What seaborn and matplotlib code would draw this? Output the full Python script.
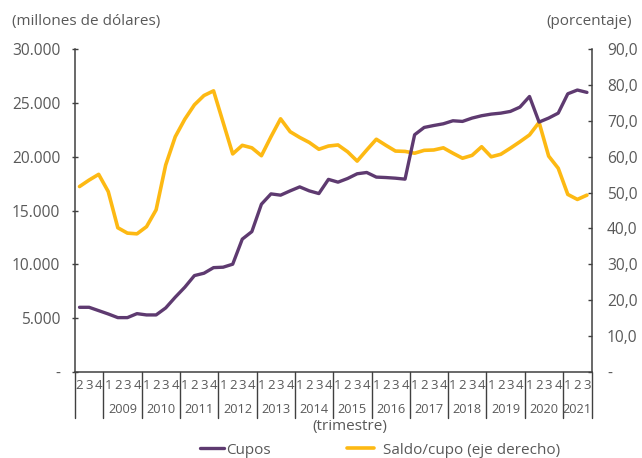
import matplotlib
matplotlib.use("Agg")
import matplotlib.pyplot as plt
import matplotlib.transforms as mtransforms
from matplotlib.lines import Line2D
import seaborn as sns
import pandas as pd

# ---------------- data ----------------
quarter_labels = ["2", "3", "4",
                  "1", "2", "3", "4", "1", "2", "3", "4", "1", "2", "3", "4",
                  "1", "2", "3", "4", "1", "2", "3", "4", "1", "2", "3", "4",
                  "1", "2", "3", "4", "1", "2", "3", "4", "1", "2", "3", "4",
                  "1", "2", "3", "4", "1", "2", "3", "4", "1", "2", "3", "4",
                  "1", "2", "3"]
year_labels = ["", "2009", "2010", "2011", "2012", "2013", "2014", "2015",
               "2016", "2017", "2018", "2019", "2020", "2021"]
year_sizes = [3, 4, 4, 4, 4, 4, 4, 4, 4, 4, 4, 4, 4, 3]

cupos = [6000, 6000, 5690, 5380, 5040, 5040, 5410, 5290, 5290, 5940,
         6940, 7870, 8950, 9170, 9690, 9730, 10010, 12340, 13040, 15590,
         16550, 16430, 16830, 17200, 16830, 16580, 17900, 17640, 17980, 18420,
         18540, 18110, 18070, 18010, 17920, 22050, 22730, 22910, 23070, 23350,
         23290, 23600, 23820, 23970, 24060, 24220, 24620, 25610, 23230, 23600,
         24060, 25860, 26210, 25990]
saldo_cupo = [51.7, 53.5, 55.1, 50.3, 40.2, 38.7, 38.5, 40.5, 45.2, 57.7,
              65.6, 70.5, 74.5, 77.1, 78.4, 69.6, 60.8, 63.2, 62.5, 60.3,
              65.6, 70.6, 67.0, 65.4, 64.0, 62.1, 63.0, 63.3, 61.4, 58.8,
              61.9, 64.9, 63.2, 61.6, 61.5, 61.0, 61.8, 61.9, 62.5, 61.0,
              59.6, 60.4, 62.8, 60.0, 60.7, 62.4, 64.2, 66.1, 69.6, 60.2,
              56.8, 49.5, 48.1, 49.3]

series_names = ["Cupos", "Saldo/cupo (eje derecho)"]
left_ticks = [0, 5000, 10000, 15000, 20000, 25000, 30000]
right_ticks = [0, 10, 20, 30, 40, 50, 60, 70, 80, 90]

PURPLE = "#5E3A70"
YELLOW = "#FDB913"
TEXT = "#595959"
AXC = "#404040"

df = pd.DataFrame({"t": list(range(len(cupos))), "cupos": cupos, "saldo": saldo_cupo})

# ---------------- figure ----------------
sns.set_theme(style="white")
plt.rcParams["font.family"] = ["Open Sans", "DejaVu Sans"]

fig = plt.figure(figsize=(6.42, 4.58), dpi=100)
ax = fig.add_axes([0.1164, 0.1882, 0.8053, 0.7042])
ax2 = ax.twinx()

sns.lineplot(data=df, x="t", y="cupos", ax=ax, color=PURPLE, linewidth=2.4, legend=False)
sns.lineplot(data=df, x="t", y="saldo", ax=ax2, color=YELLOW, linewidth=2.6, legend=False)
ax.set_zorder(ax2.get_zorder() + 1)
ax.patch.set_visible(False)

n = len(cupos)
ax.set_xlim(-0.5, n - 0.5)
ax.set_ylim(0, 30000)
ax2.set_ylim(0, 90)

ax.set_yticks(left_ticks)
ax.set_yticklabels(["-" if v == 0 else f"{v:,.0f}".replace(",", ".") for v in left_ticks])
ax2.set_yticks(right_ticks)
ax2.set_yticklabels(["-" if v == 0 else f"{v:.1f}".replace(".", ",") for v in right_ticks])

ax.set_xticks(range(n))
ax.set_xticklabels(quarter_labels)
ax.set_xlabel("")
ax.set_ylabel("")
ax2.set_xlabel("")
ax2.set_ylabel("")

ax.tick_params(axis="x", length=0, pad=5, labelsize=9.5, colors=TEXT)
ax.tick_params(axis="y", direction="inout", length=5, width=1, pad=8,
               labelsize=11.2, labelcolor=TEXT, color=AXC)
ax2.tick_params(axis="y", direction="in", length=3, width=1, pad=11,
                labelsize=11.2, labelcolor=TEXT, color=AXC)

for a in (ax, ax2):
    a.spines["top"].set_visible(False)
    for s in ("left", "right", "bottom"):
        a.spines[s].set_color(AXC)
        a.spines[s].set_linewidth(1.1)
ax.spines["right"].set_visible(False)
ax2.spines["left"].set_visible(False)
ax2.spines["bottom"].set_visible(False)

# year separators and labels
trans = mtransforms.blended_transform_factory(ax.transData, ax.transAxes)
pos = -0.5
bounds = [pos]
for lab, size in zip(year_labels, year_sizes):
    start = pos
    pos += size
    bounds.append(pos)
    if lab:
        ax.text((start + pos) / 2, -0.118, lab, transform=trans, ha="center",
                va="center", fontsize=9.2, color=TEXT)
for b in bounds:
    ax.add_line(Line2D([b, b], [0, -0.143], transform=trans, color=AXC,
                       linewidth=1.0, clip_on=False))

fig.text(0.545, 0.068, "(trimestre)", ha="center", va="center", fontsize=11, color=TEXT)
fig.text(0.019, 0.953, "(millones de dólares)", ha="left", va="center", fontsize=11, color=TEXT)
fig.text(0.985, 0.953, "(porcentaje)", ha="right", va="center", fontsize=11, color=TEXT)

# legend: two entries placed like the original
leg1 = fig.legend([Line2D([], [], color=PURPLE, linewidth=2.4)], [series_names[0]],
                  loc="center left", bbox_to_anchor=(200 / 642, 0.017),
                  frameon=False, fontsize=11, handlelength=1.55,
                  handletextpad=0.15, borderpad=0, borderaxespad=0)
leg2 = fig.legend([Line2D([], [], color=YELLOW, linewidth=2.6)], [series_names[1]],
                  loc="center left", bbox_to_anchor=(347 / 642, 0.017),
                  frameon=False, fontsize=11, handlelength=1.75,
                  handletextpad=0.6, borderpad=0, borderaxespad=0)
for lg in (leg1, leg2):
    for t in lg.get_texts():
        t.set_color(TEXT)

fig.savefig("out.png", dpi=100)
